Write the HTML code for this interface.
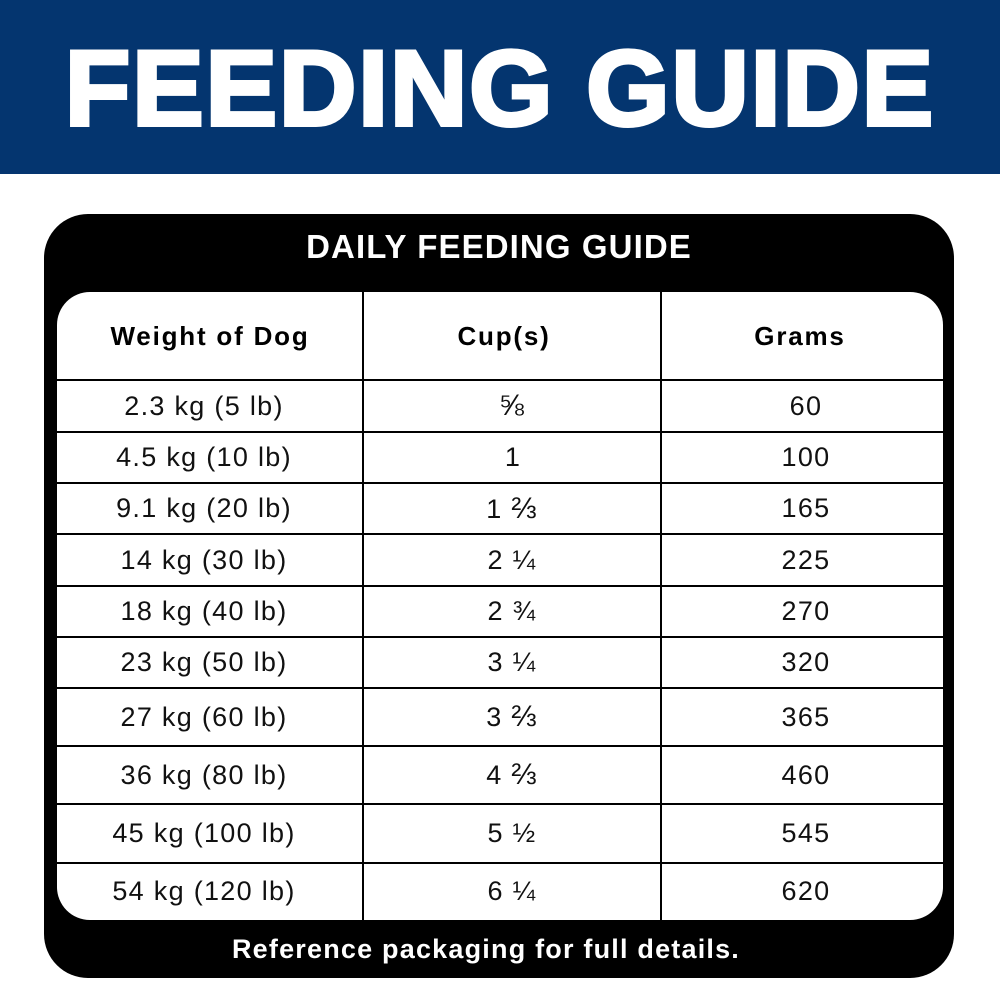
<!DOCTYPE html>
<html>
<head>
<meta charset="utf-8">
<style>
  html, body { margin:0; padding:0; }
  body { width:1000px; height:1000px; position:relative; background:#ffffff; overflow:hidden; font-family:"Liberation Sans", "DejaVu Sans", sans-serif; }
  .hdr { position:absolute; left:0; top:0; width:1000px; height:174px; background:#04356f; }
  .title { position:absolute; left:0; top:0; width:1000px; height:176px; line-height:176px; text-align:center; color:#fff; font-weight:bold; font-size:107px; letter-spacing:2px; -webkit-text-stroke:4px #fff; }
  .card { position:absolute; left:44px; top:214px; width:910px; height:764px; background:#000; border-radius:44px; }
  .cardtitle { position:absolute; left:44px; top:214px; width:910px; height:66px; line-height:66px; text-align:center; color:#fff; font-weight:bold; font-size:33px; letter-spacing:1.1px; }
  .inner { position:absolute; left:57px; top:292px; width:886px; height:628px; background:#fff; border-radius:33px; overflow:hidden; }
  .hl { position:absolute; left:0; width:886px; height:2px; background:#000; }
  .vl { position:absolute; top:0; width:2px; height:628px; background:#000; }
  .cell { position:absolute; text-align:center; color:#111; font-size:27px; letter-spacing:1.3px; white-space:nowrap; }
  .h { font-weight:bold; font-size:26px; letter-spacing:1.8px; color:#000; }
  .fr { font-size:30px; }
  .footer { position:absolute; left:18px; top:920px; width:936px; height:58px; line-height:58px; text-align:center; color:#fff; font-weight:bold; font-size:27px; letter-spacing:1.2px; }
</style>
</head>
<body>
  <div class="hdr"></div>
  <div class="title">FEEDING GUIDE</div>

  <div class="card"></div>
  <div class="cardtitle">DAILY FEEDING GUIDE</div>

  <div class="inner">
    <div class="hl" style="top:87px"></div>
    <div class="hl" style="top:139px"></div>
    <div class="hl" style="top:190px"></div>
    <div class="hl" style="top:241px"></div>
    <div class="hl" style="top:293px"></div>
    <div class="hl" style="top:344px"></div>
    <div class="hl" style="top:395px"></div>
    <div class="hl" style="top:453px"></div>
    <div class="hl" style="top:511px"></div>
    <div class="hl" style="top:570px"></div>
    <div class="vl" style="left:305px"></div>
    <div class="vl" style="left:603px"></div>
  </div>

  <!-- header row -->
  <div class="cell h" style="left:57px; width:306px; top:292px; height:88px; line-height:88px;">Weight of Dog</div>
  <div class="cell h" style="left:355px; width:298px; top:292px; height:88px; line-height:88px;">Cup(s)</div>
  <div class="cell h" style="left:659px; width:282px; top:292px; height:88px; line-height:88px;">Grams</div>

  <!-- data rows -->
  <div class="cell" style="left:51px; width:306px; top:380px; height:52px; line-height:52px;">2.3 kg (5 lb)</div>
  <div class="cell" style="left:363px; width:298px; top:380px; height:52px; line-height:52px;"><span class="fr">⅝</span></div>
  <div class="cell" style="left:665px; width:282px; top:380px; height:52px; line-height:52px;">60</div>

  <div class="cell" style="left:51px; width:306px; top:432px; height:51px; line-height:51px;">4.5 kg (10 lb)</div>
  <div class="cell" style="left:364px; width:298px; top:432px; height:51px; line-height:51px;">1</div>
  <div class="cell" style="left:665px; width:282px; top:432px; height:51px; line-height:51px;">100</div>

  <div class="cell" style="left:51px; width:306px; top:483px; height:51px; line-height:51px;">9.1 kg (20 lb)</div>
  <div class="cell" style="left:363px; width:298px; top:483px; height:51px; line-height:51px;">1 <span class="fr">⅔</span></div>
  <div class="cell" style="left:665px; width:282px; top:483px; height:51px; line-height:51px;">165</div>

  <div class="cell" style="left:51px; width:306px; top:534px; height:52px; line-height:52px;">14 kg (30 lb)</div>
  <div class="cell" style="left:363px; width:298px; top:534px; height:52px; line-height:52px;">2 ¼</div>
  <div class="cell" style="left:665px; width:282px; top:534px; height:52px; line-height:52px;">225</div>

  <div class="cell" style="left:51px; width:306px; top:586px; height:51px; line-height:51px;">18 kg (40 lb)</div>
  <div class="cell" style="left:363px; width:298px; top:586px; height:51px; line-height:51px;">2 ¾</div>
  <div class="cell" style="left:665px; width:282px; top:586px; height:51px; line-height:51px;">270</div>

  <div class="cell" style="left:51px; width:306px; top:637px; height:51px; line-height:51px;">23 kg (50 lb)</div>
  <div class="cell" style="left:363px; width:298px; top:637px; height:51px; line-height:51px;">3 ¼</div>
  <div class="cell" style="left:665px; width:282px; top:637px; height:51px; line-height:51px;">320</div>

  <div class="cell" style="left:51px; width:306px; top:688px; height:58px; line-height:58px;">27 kg (60 lb)</div>
  <div class="cell" style="left:363px; width:298px; top:688px; height:58px; line-height:58px;">3 <span class="fr">⅔</span></div>
  <div class="cell" style="left:665px; width:282px; top:688px; height:58px; line-height:58px;">365</div>

  <div class="cell" style="left:51px; width:306px; top:746px; height:58px; line-height:58px;">36 kg (80 lb)</div>
  <div class="cell" style="left:363px; width:298px; top:746px; height:58px; line-height:58px;">4 <span class="fr">⅔</span></div>
  <div class="cell" style="left:665px; width:282px; top:746px; height:58px; line-height:58px;">460</div>

  <div class="cell" style="left:51px; width:306px; top:804px; height:59px; line-height:59px;">45 kg (100 lb)</div>
  <div class="cell" style="left:363px; width:298px; top:804px; height:59px; line-height:59px;">5 ½</div>
  <div class="cell" style="left:665px; width:282px; top:804px; height:59px; line-height:59px;">545</div>

  <div class="cell" style="left:51px; width:306px; top:863px; height:57px; line-height:57px;">54 kg (120 lb)</div>
  <div class="cell" style="left:363px; width:298px; top:863px; height:57px; line-height:57px;">6 ¼</div>
  <div class="cell" style="left:665px; width:282px; top:863px; height:57px; line-height:57px;">620</div>

  <div class="footer">Reference packaging for full details.</div>
</body>
</html>
